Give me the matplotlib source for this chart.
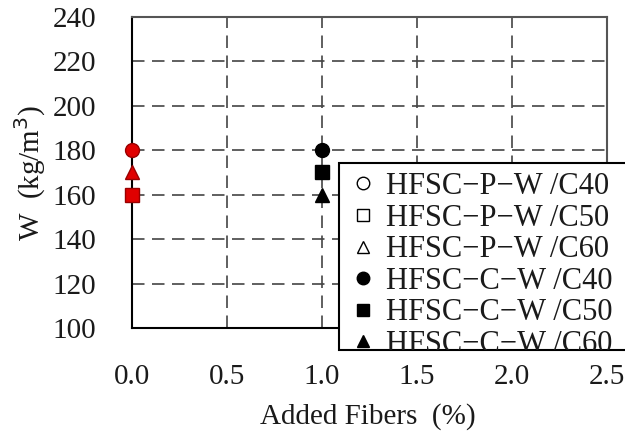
import matplotlib
matplotlib.use("Agg")
import matplotlib.pyplot as plt
from matplotlib.lines import Line2D
from matplotlib.patches import Rectangle

plt.rcParams['font.family'] = ['Liberation Serif', 'DejaVu Serif']

# Data
red_x = [0.0, 0.0, 0.0]
red_y = [180, 170, 160]
red_markers = ['o', '^', 's']

c_x = [1.0, 1.0, 1.0]
c_y = [180, 170, 160]
c_markers = ['o', 's', '^']

legend_labels = ["HFSC−P−W /C40", "HFSC−P−W /C50", "HFSC−P−W /C60",
                 "HFSC−C−W /C40", "HFSC−C−W /C50", "HFSC−C−W /C60"]
legend_markers = ['o', 's', '^', 'o', 's', '^']
legend_filled = [False, False, False, True, True, True]

xticks = [0.0, 0.5, 1.0, 1.5, 2.0, 2.5]
yticks = [100, 120, 140, 160, 180, 200, 220, 240]

W, H = 625, 434
fig = plt.figure(figsize=(W / 100, H / 100), dpi=100)
ax = fig.add_axes([132 / W, 1 - 328 / H, (607 - 132) / W, (328 - 17) / H])

ax.set_xlim(0, 2.5)
ax.set_ylim(100, 240)
ax.set_xticks(xticks)
ax.set_yticks(yticks)
ax.set_xticklabels([f"{v:.1f}" for v in xticks])
ax.set_yticklabels([str(v) for v in yticks])
ax.tick_params(length=0, labelsize=21, colors='#1a1a1a')
ax.tick_params(axis='x', pad=26)
ax.tick_params(axis='y', pad=26)

ax.grid(True, linestyle=(0, (7.5, 4.5)), color='#444444', linewidth=1.2)
ax.set_axisbelow(True)
for side in ['left', 'bottom']:
    ax.spines[side].set_color('black')
    ax.spines[side].set_linewidth(1.5)
for side in ['top', 'right']:
    ax.spines[side].set_color('#555555')
    ax.spines[side].set_linewidth(1.5)

for x, y, m in zip(red_x, red_y, red_markers):
    ax.plot(x, y, marker=m, markersize=10, markerfacecolor='#e00000',
            markeredgecolor='#990000', markeredgewidth=1.0, linestyle='none',
            clip_on=False, zorder=5)
for x, y, m in zip(c_x, c_y, c_markers):
    ax.plot(x, y, marker=m, markersize=10, color='black', linestyle='none',
            clip_on=False, zorder=5)

fig.text(30 / W, 1 - 173 / H, "W  (kg/m$^{3}$)", rotation=90, ha='center',
         va='center', fontsize=21, color='#1a1a1a')
fig.text(368 / W, 1 - 417 / H, "Added Fibers  (%)", ha='center', va='center',
         fontsize=21, color='#1a1a1a')

# Legend box (clipped at bottom as in reference)
box = Rectangle((339 / W, 1 - 350 / H), (W - 339 + 10) / W, (350 - 163) / H,
                transform=fig.transFigure, facecolor='white', edgecolor='black',
                linewidth=1.5, zorder=4)
fig.add_artist(box)

handles = []
for m, f in zip(legend_markers, legend_filled):
    handles.append(Line2D([], [], marker=m, linestyle='none', markersize=9,
                          markeredgecolor='black', markeredgewidth=1.0,
                          markerfacecolor='black' if f else 'white'))
leg = fig.legend(handles, legend_labels, loc='upper left',
                 bbox_to_anchor=(354 / W, 1 - 172 / H),
                 frameon=False, fontsize=22, handlelength=0.6,
                 handletextpad=0.45, labelspacing=0.085, borderpad=0.0,
                 borderaxespad=0.0)
leg.set_zorder(6)
clip = Rectangle((339 / W, 1 - 350 / H), (W - 339 + 10) / W, (350 - 163) / H,
                 transform=fig.transFigure)
for t in leg.get_texts():
    t.set_clip_path(clip)
    t.set_color('#1a1a1a')
for h in leg.legend_handles:
    h.set_clip_path(clip)

fig.savefig("out.png", dpi=100)
